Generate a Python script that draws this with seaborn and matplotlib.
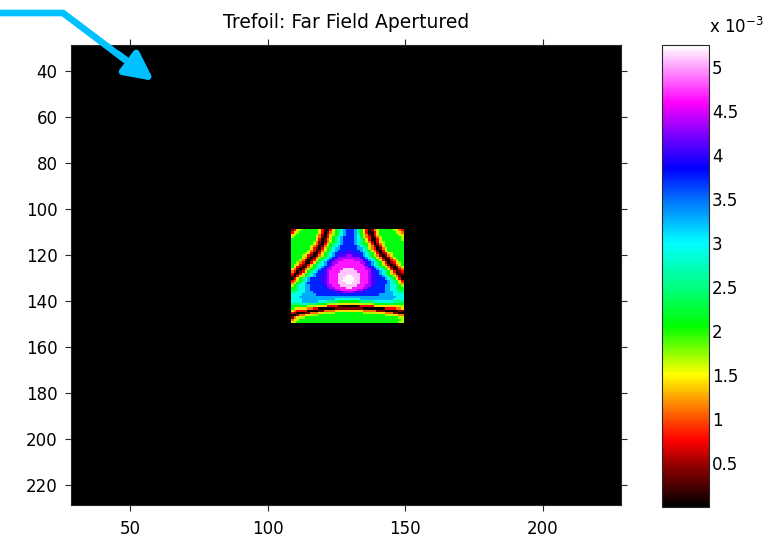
import numpy as np
import matplotlib
matplotlib.use("Agg")
import matplotlib.pyplot as plt
from matplotlib.colors import LinearSegmentedColormap
import seaborn as sns

# ---------------- data ----------------
TITLE = "Trefoil: Far Field Apertured"
X_TICKS = [50, 100, 150, 200]
Y_TICKS = [40, 60, 80, 100, 120, 140, 160, 180, 200, 220]
CBAR_TICKS = [0.5, 1, 1.5, 2, 2.5, 3, 3.5, 4, 4.5, 5]
CBAR_TICK_LABELS = ["0.5", "1", "1.5", "2", "2.5", "3", "3.5", "4", "4.5", "5"]
CBAR_EXPONENT = r"x 10$^{-3}$"

GRID_FIRST = 29      # first pixel number shown on both axes
GRID_LAST = 228      # last pixel number shown on both axes
PATCH_FIRST = 109    # first pixel (row and column) of the apertured patch

# intensity levels (units of 1e-3)
LEVEL_CODES = "0123456789abcdef"
LEVEL_VALUES = [0.05, 0.4, 0.75, 1.1, 1.4, 1.7, 2.1, 2.5, 2.9, 3.3,
                3.75, 4.05, 4.35, 4.65, 5.1, 5.25]

# patch, one string per image row (41 x 41 pixels), coded with LEVEL_CODES
PATCH_ROWS = [
    "1245666666 4200246789 aaa9764201 3566666543 2",
    "2456666666 4201356789 aaa9764200 2466666654 3",
    "4566666665 3102456789 aaa9865310 2466666665 4",
    "5666666664 310246789a aaa9865320 1356666666 5",
    "6666666664 201356789a aaa9876420 0246666666 5",
    "6666666653 101356789a aaa9876531 0245666666 6",
    "6666666643 102467889a aaa9876642 0135666666 6",
    "6666666532 01356789aa aaaa987643 1024666666 6",
    "6666666421 02467899aa aaaa998753 2013566666 6",
    "6666665320 1356789aaa bbaaa98764 3102466666 6",
    "6666654200 246789aabb bbbbaa9876 4201245666 6",
    "6666542101 356789abbb ccbbba9876 5310134666 6",
    "6666431013 56789abccc cccccba987 6531013566 6",
    "6665310124 6789abcccd dddcccba98 7642002356 6",
    "6653200246 789abccddd dddddccba9 8764201245 6",
    "6542102467 889abcdddd ddddddcba9 8765310134 6",
    "6421013567 89abcddddd dddddddcba 9876531013 5",
    "4310135678 9abccdddde eeeddddccb a987642002 3",
    "3201246789 aabcddddee eeeeddddcb aa98764201 2",
    "200246789a abbcdddeee eeeeedddcb ba98765310 1",
    "102456789a abbcdddeee ffeeedddcb baa9876531 0",
    "0246789aaa abbcdddeef fffeedddcb baaa987642 0",
    "2356789aaa abbcdddeef fffeedddcb baaaa98764 2",
    "356789aaaa abbcdddeee ffeeedddcb baaaa98765 3",
    "5678899aaa aabccdddee eeeedddccb aaaa998876 5",
    "6678899aaa aaabccdddd eeddddccba aaaa998876 6",
    "6778899aaa aaaabbccdd ddddccbbaa aaaa998877 6",
    "77888999aa aaaaaabbbc cccbbbaaaa aaaa999887 7",
    "888899999a aaaaaaaaaa aaaaaaaaaa aa99999888 8",
    "8889999999 9999999999 9999999999 9999999988 8",
    "8888999999 9999998888 8888899999 9999999888 8",
    "8888999999 8887777666 6666677777 8888888777 7",
    "7777887777 6665555444 4444455555 6666667666 6",
    "6666665555 4442222000 0000022222 4444444445 5",
    "6544443322 0000001111 1111110000 0000222233 4",
    "4322220000 1133334444 4444443333 3111000001 1",
    "2100011333 4455556666 6666665555 5444333110 0",
    "0013344555 6666666666 6666666666 6666555443 3",
    "1345566666 6666666666 6666666666 6666666665 5",
    "3456666666 6666666666 6666666666 6666666666 5",
    "4566666666 6666666666 6666666666 6666666665 5",
]

VMIN, VMAX = 0.0, 5.25
CMAP_VALUES = [0.0, 0.5, 0.75, 1.0, 1.25, 1.5, 2.05, 2.5, 3.0, 3.5, 3.85, 4.25, 4.6, 5.25]
CMAP_COLORS = ["#000000", "#a00000", "#ff0000", "#ff5000", "#ffa500", "#ffff00",
               "#00ff00", "#00ff80", "#00ffff", "#0070ff", "#0000ff", "#8000ff",
               "#ff00ff", "#ffffff"]
ARROW_COLOR = "#00c0ff"

# ---------------- build table ----------------
n = GRID_LAST - GRID_FIRST + 1
patch = np.array([[LEVEL_VALUES[LEVEL_CODES.index(ch)] for ch in row.replace(" ", "")]
                  for row in PATCH_ROWS])
field = np.zeros((n, n))
i0 = PATCH_FIRST - GRID_FIRST
field[i0:i0 + patch.shape[0], i0:i0 + patch.shape[1]] = patch

cmap = LinearSegmentedColormap.from_list(
    "trefoil", [(v / VMAX, c) for v, c in zip(CMAP_VALUES, CMAP_COLORS)])

# ---------------- figure ----------------
sns.set_style("white")
plt.rcParams["font.family"] = ["DejaVu Sans"]
plt.rcParams["mathtext.fontset"] = "dejavusans"
plt.rcParams["text.color"] = "black"
plt.rcParams["xtick.labelcolor"] = "black"
plt.rcParams["ytick.labelcolor"] = "black"

W, H = 776, 539
fig = plt.figure(figsize=(W / 100, H / 100), dpi=100)
ax = fig.add_axes([70.7 / W, 1 - 505 / H, 550.6 / W, 460 / H])
cax = fig.add_axes([662 / W, 1 - 507 / H, 47 / W, 462 / H])

sns.heatmap(field, ax=ax, cbar_ax=cax, cmap=cmap, vmin=VMIN, vmax=VMAX,
            xticklabels=False, yticklabels=False)

ax.set_xticks([v - GRID_FIRST + 0.5 for v in X_TICKS])
ax.set_xticklabels([str(v) for v in X_TICKS], rotation=0)
ax.set_yticks([v - GRID_FIRST + 0.5 for v in Y_TICKS])
ax.set_yticklabels([str(v) for v in Y_TICKS], rotation=0)
for sp in ax.spines.values():
    sp.set_visible(True)
    sp.set_linewidth(0.8)
    sp.set_color("#262626")
ax.tick_params(direction="out", length=4.5, width=0.8, color="#262626",
               labelcolor="black",
               top=True, right=True, bottom=True, left=True,
               labeltop=False, labelright=False, labelsize=12, pad=5)
ax.tick_params(axis="x", pad=6)
ax.set_title(TITLE, fontsize=13.5, pad=12, color="black")

cb = ax.collections[0].colorbar
cb.outline.set_visible(True)
cb.outline.set_linewidth(0.8)
cb.outline.set_edgecolor("#262626")
cb.set_ticks(CBAR_TICKS)
cb.set_ticklabels(CBAR_TICK_LABELS)
cax.yaxis.set_ticks_position("both")
cax.tick_params(direction="in", length=4, width=0.8, color="#262626",
                labelcolor="black",
                left=True, right=True, labelleft=False, labelright=True,
                labelsize=12, pad=2)
fig.text(709 / W, 1 - 33 / H, CBAR_EXPONENT, fontsize=12, ha="left",
         va="baseline", color="black")

# annotation arrow (figure pixel coordinates)
ov = fig.add_axes([0, 0, 1, 1], zorder=10)
ov.set_xlim(0, W)
ov.set_ylim(H, 0)
ov.axis("off")
ov.patch.set_alpha(0)
ov.plot([0, 63, 132], [13, 13, 65], color=ARROW_COLOR, lw=4.8,
        solid_joinstyle="miter", solid_capstyle="butt")
ov.annotate("", xy=(154, 81), xytext=(118, 54),
            arrowprops=dict(arrowstyle="-|>,head_length=1.7,head_width=0.85",
                            color=ARROW_COLOR, lw=4.8, shrinkA=0, shrinkB=0))

fig.savefig("out.png", dpi=100)
